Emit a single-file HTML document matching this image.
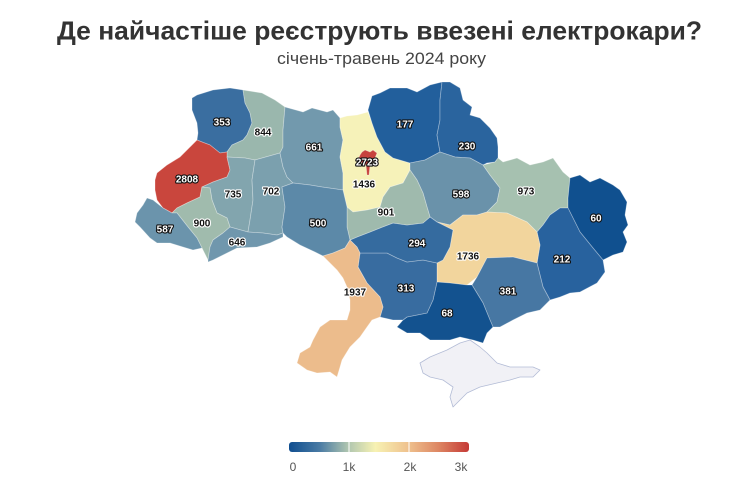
<!DOCTYPE html>
<html><head><meta charset="utf-8"><style>
html,body{margin:0;padding:0;background:#fff;}
svg{display:block;}
.l{font-family:"Liberation Sans",sans-serif;font-size:10px;font-weight:bold;text-anchor:middle;paint-order:stroke;stroke-linejoin:round;}
.w{fill:#fff;stroke:#111;stroke-width:2.2px;}
.b{fill:#111;stroke:#fff;stroke-width:2.2px;}
</style></head><body>
<svg width="756" height="493" viewBox="0 0 756 493" xmlns="http://www.w3.org/2000/svg">
<rect width="756" height="493" fill="#fff"/>
<text x="379.5" y="39.5" text-anchor="middle" textLength="645" lengthAdjust="spacingAndGlyphs" font-family="Liberation Sans, sans-serif" font-weight="bold" font-size="26" fill="#333">Де найчастіше реєструють ввезені електрокари?</text>
<text x="381.5" y="64" text-anchor="middle" textLength="209" lengthAdjust="spacingAndGlyphs" font-family="Liberation Sans, sans-serif" font-size="16.5" fill="#444">січень-травень 2024 року</text>

<g stroke="#ffffff" stroke-opacity="0.35" stroke-width="0.8" stroke-linejoin="round">
<polygon fill="#f1f1f6" stroke="#b3bcd6" stroke-opacity="1" points="423,373 420,363 430,357 447,350 460,343 470,340 480,347 487,353 497,363 510,367 520,367 533,367 540,370 533,377 520,377 510,380 497,383 480,387 467,393 460,400 453,407 450,397 453,387 443,380 430,377"/>
<polygon fill="#3a6ea0" points="192,98 197,95 213,90 230,88 243,90 245,103 250,113 252,123 247,135 243,140 232,145 227,152 220,153 210,145 202,142 197,140 198,133 197,123 192,110"/>
<polygon fill="#9ab7ad" points="243,90 262,93 275,100 285,107 283,130 283,147 280,153 255,160 245,158 227,157 227,152 232,145 243,140 247,135 252,123 250,113 245,103"/>
<polygon fill="#c9463d" points="197,140 202,142 210,145 220,153 227,152 227,157 230,170 227,177 213,182 202,187 200,197 187,203 177,208 172,213 163,208 157,200 155,190 155,180 157,173 167,165 180,157 190,147"/>
<polygon fill="#82a5ae" points="227,157 245,158 255,160 252,180 253,200 250,220 248,232 230,227 227,218 217,213 212,200 210,188 202,187 213,182 227,177 230,170"/>
<polygon fill="#7ba0ae" points="255,160 280,153 283,167 287,177 293,183 282,187 285,207 282,227 283,233 277,235 263,233 248,232 250,220 253,200 252,180"/>
<polygon fill="#7299ad" points="285,107 303,112 312,108 327,112 333,110 340,118 340,127 343,140 340,157 343,173 343,190 322,187 310,185 293,183 287,177 283,167 280,153 283,147 283,130"/>
<polygon fill="#f6f2b9" points="340,118 347,116 357,115 368,112 372,123 377,137 385,152 393,158 410,163 410,170 403,183 390,187 383,197 380,207 367,210 353,212 347,207 343,190 343,173 340,157 343,140 340,127"/>
<polygon fill="#225f9c" points="368,110 372,96 380,93 390,88 407,88 417,92 430,85 442,82 440,100 440,120 437,135 440,152 425,160 410,163 393,158 385,152 377,137 372,123"/>
<polygon fill="#2a649e" points="442,82 450,82 460,88 463,100 472,107 470,115 480,118 490,128 497,138 498,147 498,158 495,162 487,163 483,165 470,158 455,157 440,152 437,135 440,120 440,100"/>
<polygon fill="#6a92aa" points="410,163 425,160 440,152 455,157 470,158 483,165 490,175 500,188 497,202 487,212 477,215 463,215 450,225 437,222 430,217 427,207 423,193 417,180 410,170"/>
<polygon fill="#a6c1b0" points="483,165 495,162 498,158 503,162 517,158 530,165 543,162 553,158 563,172 570,178 568,198 568,208 560,208 550,215 543,225 537,232 527,222 507,213 487,212 497,202 500,188 490,175"/>
<polygon fill="#10508f" points="570,178 580,175 590,182 600,178 613,185 620,190 627,202 625,215 628,225 623,232 627,242 623,252 613,255 603,260 593,248 580,232 568,208 568,198"/>
<polygon fill="#28629e" points="537,232 543,225 550,215 560,208 568,208 580,232 593,248 603,260 605,272 597,283 580,292 570,293 560,297 550,300 543,287 537,263 540,245"/>
<polygon fill="#f2d59d" points="437,222 450,225 463,215 477,215 487,212 507,213 527,222 537,232 540,245 537,263 513,257 487,258 477,277 467,285 450,283 437,282 437,263 443,260 450,247 453,230"/>
<polygon fill="#4777a3" points="487,258 513,257 537,263 543,287 550,300 547,303 540,310 527,313 513,320 500,327 493,327 490,320 483,303 472,285 477,277"/>
<polygon fill="#13528f" points="437,282 450,283 467,285 472,285 483,303 490,320 493,327 487,333 483,343 473,340 460,337 450,340 430,340 420,333 407,333 397,327 403,320 407,317 427,313 433,300"/>
<polygon fill="#386ca0" points="360,253 387,253 397,258 407,262 423,260 437,263 437,282 433,300 427,313 407,317 403,320 393,320 380,317 383,307 380,297 367,283 358,267"/>
<polygon fill="#356b9f" points="350,240 357,237 370,232 380,228 393,223 407,225 423,223 430,217 437,222 453,230 450,247 443,260 437,263 423,260 407,262 397,258 387,253 360,253 357,247"/>
<polygon fill="#9fbaad" points="347,207 353,212 367,210 380,207 383,197 390,187 403,183 410,170 417,180 423,193 427,207 430,217 423,223 407,225 393,223 380,228 370,232 357,237 350,240 347,227"/>
<polygon fill="#5c89a8" points="293,183 310,185 322,187 343,190 347,207 347,227 350,240 345,248 333,253 323,256 315,252 300,245 287,237 283,233 282,227 285,207 282,187"/>
<polygon fill="#ecbc8c" points="323,256 333,253 345,248 350,240 357,247 360,253 358,267 367,283 380,297 383,307 380,317 372,320 367,327 360,337 350,347 342,360 340,367 337,377 330,372 317,373 307,370 297,363 300,353 310,347 313,340 320,327 330,320 347,320 350,310 350,300 347,287 343,278 337,270 330,263"/>
<polygon fill="#a0bbad" points="172,213 177,208 187,203 200,197 202,187 210,188 212,200 217,213 227,218 230,227 223,233 213,240 210,247 208,260 202,248 197,238 188,227 177,213"/>
<polygon fill="#7097ad" points="230,227 248,232 263,233 277,235 283,233 283,237 270,243 257,247 237,248 223,255 213,260 208,262 208,260 210,247 213,240 223,233"/>
<polygon fill="#6b94ac" points="143,205 147,198 153,200 163,208 172,213 177,213 188,227 197,238 202,248 193,250 183,247 170,243 157,243 150,238 140,227 135,222 137,213"/>
<polygon fill="#c7433e" points="360,155 362,152 365,150 370,152 373,150 377,153 375,158 373,162 370,165 369,175 367,175 366,165 362,163 358,160"/>
</g>

<g>
<text class="l w" x="222" y="125.5">353</text>
<text class="l b" x="263" y="135.5">844</text>
<text class="l w" x="314" y="150.5">661</text>
<text class="l w" x="187" y="182.5">2808</text>
<text class="l b" x="233" y="197.5">735</text>
<text class="l b" x="271" y="194.5">702</text>
<text class="l w" x="165" y="232.5">587</text>
<text class="l b" x="202" y="226.5">900</text>
<text class="l b" x="237" y="245.5">646</text>
<text class="l w" x="318" y="226.5">500</text>
<text class="l w" x="367" y="165.5">2723</text>
<text class="l b" x="364" y="187.5">1436</text>
<text class="l w" x="405" y="127.5">177</text>
<text class="l w" x="467" y="149.5">230</text>
<text class="l w" x="461" y="197.5">598</text>
<text class="l b" x="526" y="194.5">973</text>
<text class="l w" x="596" y="221.5">60</text>
<text class="l b" x="386" y="215.5">901</text>
<text class="l w" x="417" y="246.5">294</text>
<text class="l b" x="468" y="259.5">1736</text>
<text class="l w" x="562" y="262.5">212</text>
<text class="l b" x="355" y="295.5">1937</text>
<text class="l w" x="406" y="291.5">313</text>
<text class="l w" x="447" y="316.5">68</text>
<text class="l w" x="508" y="294.5">381</text>
</g>

<defs>
<linearGradient id="lg" x1="0" x2="1" y1="0" y2="0">
<stop offset="0" stop-color="#0f4e90"/>
<stop offset="0.17" stop-color="#4a7ba4"/>
<stop offset="0.33" stop-color="#b0c6b0"/>
<stop offset="0.48" stop-color="#f7f2b3"/>
<stop offset="0.66" stop-color="#efc28e"/>
<stop offset="0.83" stop-color="#dd8663"/>
<stop offset="1" stop-color="#c53a36"/>
</linearGradient>
</defs>
<rect x="289" y="442" width="180" height="10" rx="3" fill="url(#lg)"/>
<rect x="348.5" y="442" width="1" height="10" fill="#fff"/>
<rect x="408.5" y="442" width="1" height="10" fill="#fff"/>
<g font-family="Liberation Sans, sans-serif" font-size="12" fill="#555" text-anchor="middle">
<text x="293" y="471">0</text>
<text x="349" y="471">1k</text>
<text x="410" y="471">2k</text>
<text x="461" y="471">3k</text>
</g>
</svg>
</body></html>
